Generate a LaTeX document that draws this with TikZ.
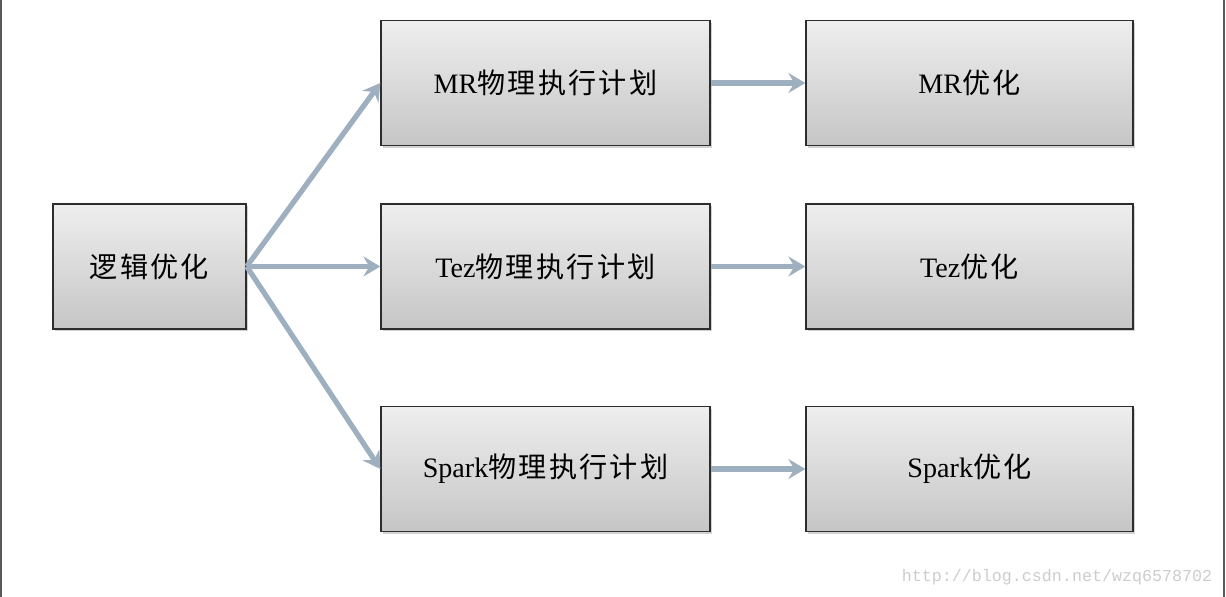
\documentclass[tikz,border=0pt]{standalone}
\usepackage{fontspec}
\setmainfont{Liberation Serif}
\newfontfamily\cjk[LetterSpace=8]{Noto Sans CJK SC}
\newfontfamily\wmfont{Liberation Mono}
\usetikzlibrary{arrows.meta, shadows}

\definecolor{arrowgray}{RGB}{158,175,192}
\definecolor{edgegray}{RGB}{45,45,45}

\tikzset{
    box/.style={draw=edgegray, line width=0.8pt, top color=gray!13, bottom color=gray!45,
        drop shadow={shadow xshift=1.2pt, shadow yshift=-1.2pt, fill=gray!70, opacity=0.5},
        minimum height=2.5cm, inner sep=0pt, font=\fontsize{16}{18}\selectfont},
    link/.style={draw=arrowgray, line width=3pt, -{Stealth[length=3.4mm, width=4mm, inset=1.2mm]}}
}

\begin{document}
\begin{tikzpicture}[x=0.02cm, y=-0.02cm]
    \useasboundingbox (0,0) rectangle (1226,597);
    \draw[gray!70!black, line width=0.8pt] (1,0) -- (1,597);
    \draw[gray!70!black, line width=0.8pt] (1224,0) -- (1224,597);

    \node[box, minimum width=3.86cm] (logic) at (149.5,266.5) {\cjk 逻辑优化};

    \node[box, minimum width=6.58cm] (mrplan)    at (545.5,83)    {MR{\cjk 物理执行计划}};
    \node[box, minimum width=6.58cm] (tezplan)   at (545.5,266.5) {Tez{\cjk 物理执行计划}};
    \node[box, minimum width=6.58cm] (sparkplan) at (545.5,469)   {Spark{\cjk 物理执行计划}};

    \node[box, minimum width=6.54cm] (mropt)    at (969.5,83)    {MR{\cjk 优化}};
    \node[box, minimum width=6.54cm] (tezopt)   at (969.5,266.5) {Tez{\cjk 优化}};
    \node[box, minimum width=6.54cm] (sparkopt) at (969.5,469)   {Spark{\cjk 优化}};

    \draw[link] (logic.east) -- (mrplan.west);
    \draw[link] (logic.east) -- (tezplan.west);
    \draw[link] (logic.east) -- (sparkplan.west);

    \draw[link] (mrplan) -- (mropt);
    \draw[link] (tezplan) -- (tezopt);
    \draw[link] (sparkplan) -- (sparkopt);

    % watermark
    \node[text=gray!40, font=\wmfont\fontsize{9.5}{11}\selectfont] (mark) at (1057,577) {http://blog.csdn.net/wzq6578702};
\end{tikzpicture}
\end{document}
